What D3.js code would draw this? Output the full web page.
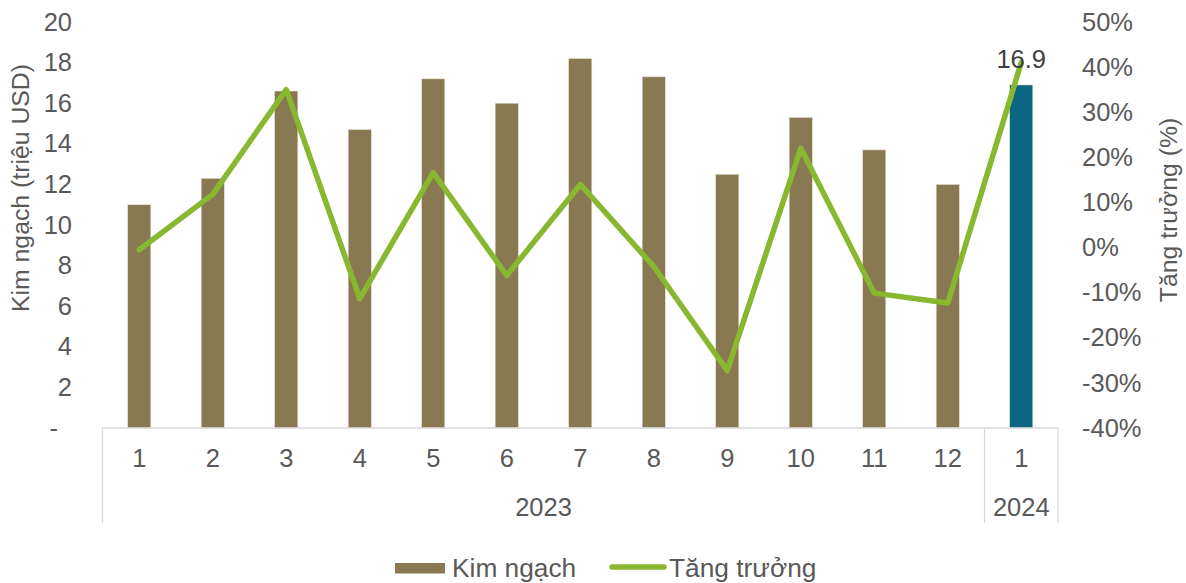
<!DOCTYPE html>
<html>
<head>
<meta charset="utf-8">
<script src="https://cdn.jsdelivr.net/npm/d3@7"></script>
<style>
  html, body { margin: 0; padding: 0; background: #fff; }
  svg { display: block; font-family: "Liberation Sans", Arial, sans-serif; }
</style>
</head>
<body>
<svg id="chart" width="1186" height="583"></svg>
<script>
// Monthly export value (million USD) and year-on-year growth (%)
const months = ["1", "2", "3", "4", "5", "6", "7", "8", "9", "10", "11", "12", "1"];
const years = ["2023", "2023", "2023", "2023", "2023", "2023", "2023", "2023", "2023", "2023", "2023", "2023", "2024"];
const yearGroups = [
  { label: "2023", from: 0, to: 11 },
  { label: "2024", from: 12, to: 12 }
];
const kimNgach = [11.0, 12.3, 16.6, 14.7, 17.2, 16.0, 18.2, 17.3, 12.5, 15.3, 13.7, 12.0, 16.9];
const tangTruong = [-0.5, 11.8, 35.0, -11.3, 16.6, -6.2, 14.0, -4.2, -27.3, 22.0, -10.1, -12.3, 41.0];
const leftTicks = [0, 2, 4, 6, 8, 10, 12, 14, 16, 18, 20];
const rightTicks = [-40, -30, -20, -10, 0, 10, 20, 30, 40, 50];

const textColor = "#595959";
const gridColor = "#d9d9d9";
const barColor = "#897952";
const barHighlight = "#0c6583";
const lineColor = "#87b830";
const fontSize = 25.5;
const titleSize = 24.8;
const legendSize = 26.3;

const svg = d3.select("#chart");
const plot = { left: 102.5, right: 1058, top: 22, bottom: 428 };

const idx = d3.range(months.length);
const x = d3.scaleBand().domain(idx).range([plot.left, plot.right]).padding(0);
const yL = d3.scaleLinear().domain([0, 20]).range([plot.bottom, plot.top]);
const yR = d3.scaleLinear().domain([-40, 50]).range([plot.bottom, plot.top]);
const barW = x.bandwidth() * 0.315;
const cx = i => x(i) + x.bandwidth() / 2;

// Bars
svg.append("g").selectAll("rect")
  .data(kimNgach)
  .join("rect")
  .attr("x", (d, i) => cx(i) - barW / 2)
  .attr("y", d => yL(d))
  .attr("width", barW)
  .attr("height", d => yL(0) - yL(d))
  .attr("fill", (d, i) => years[i] === "2024" ? barHighlight : barColor)
  .attr("stroke", "#e6e0d2")
  .attr("stroke-width", 0.6);

// Category axis: baseline and group separators
const axisG = svg.append("g");
axisG.append("line")
  .attr("x1", plot.left).attr("x2", plot.right)
  .attr("y1", plot.bottom).attr("y2", plot.bottom)
  .attr("stroke", gridColor).attr("stroke-width", 1.3);
const sepX = [plot.left, x(12), plot.right];
axisG.selectAll("line.sep")
  .data(sepX)
  .join("line")
  .attr("class", "sep")
  .attr("x1", d => d).attr("x2", d => d)
  .attr("y1", plot.bottom).attr("y2", 523)
  .attr("stroke", gridColor).attr("stroke-width", 1.3);

// Month labels
axisG.selectAll("text.month")
  .data(months)
  .join("text")
  .attr("class", "month")
  .attr("x", (d, i) => cx(i))
  .attr("y", 458)
  .attr("dy", "0.35em")
  .attr("text-anchor", "middle")
  .attr("font-size", fontSize)
  .attr("fill", textColor)
  .text(d => d);

// Year labels
axisG.selectAll("text.year")
  .data(yearGroups)
  .join("text")
  .attr("class", "year")
  .attr("x", d => (x(d.from) + x(d.to) + x.bandwidth()) / 2)
  .attr("y", 507)
  .attr("dy", "0.35em")
  .attr("text-anchor", "middle")
  .attr("font-size", fontSize)
  .attr("fill", textColor)
  .text(d => d.label);

// Left value axis
const leftAxis = svg.append("g")
  .attr("transform", `translate(${72},0)`)
  .call(d3.axisLeft(yL).tickValues(leftTicks).tickSize(0).tickPadding(0)
    .tickFormat(d => d === 0 ? "-" : d3.format("d")(d)));
leftAxis.select(".domain").remove();
leftAxis.selectAll("text")
  .attr("font-size", fontSize)
  .attr("fill", textColor)
  .attr("font-family", "Liberation Sans, Arial, sans-serif")
  .attr("dx", d => d === 0 ? -14 : 0);

// Right value axis
const rightAxis = svg.append("g")
  .attr("transform", `translate(${1082},0)`)
  .call(d3.axisRight(yR).tickValues(rightTicks).tickSize(0).tickPadding(0)
    .tickFormat(d => d + "%"));
rightAxis.select(".domain").remove();
rightAxis.selectAll("text")
  .attr("font-size", fontSize)
  .attr("fill", textColor)
  .attr("font-family", "Liberation Sans, Arial, sans-serif");

// Axis titles
svg.append("text")
  .attr("transform", `translate(${29},${188}) rotate(-90)`)
  .attr("text-anchor", "middle")
  .attr("font-size", titleSize)
  .attr("fill", textColor)
  .text("Kim ngạch (triệu USD)");
svg.append("text")
  .attr("transform", `translate(${1177},${210}) rotate(-90)`)
  .attr("text-anchor", "middle")
  .attr("font-size", titleSize)
  .attr("fill", textColor)
  .text("Tăng trưởng (%)");

// Growth line
const line = d3.line()
  .x((d, i) => cx(i))
  .y(d => yR(d));
svg.append("path")
  .datum(tangTruong)
  .attr("d", line)
  .attr("fill", "none")
  .attr("stroke", lineColor)
  .attr("stroke-width", 5.5)
  .attr("stroke-linejoin", "round")
  .attr("stroke-linecap", "round");

// Value label on the latest bar
const last = kimNgach.length - 1;
svg.append("text")
  .attr("x", cx(last))
  .attr("y", 59)
  .attr("dy", "0.35em")
  .attr("text-anchor", "middle")
  .attr("font-size", fontSize)
  .attr("fill", "#404040")
  .text(d3.format(".1f")(kimNgach[last]));

// Legend
const legend = svg.append("g");
legend.append("rect")
  .attr("x", 395).attr("y", 563).attr("width", 50).attr("height", 10.5)
  .attr("fill", barColor);
legend.append("text")
  .attr("x", 452).attr("y", 568).attr("dy", "0.35em")
  .attr("font-size", legendSize).attr("fill", textColor)
  .text("Kim ngạch");
legend.append("line")
  .attr("x1", 612).attr("x2", 664).attr("y1", 567).attr("y2", 567)
  .attr("stroke", lineColor).attr("stroke-width", 5.5)
  .attr("stroke-linecap", "round");
legend.append("text")
  .attr("x", 669).attr("y", 568).attr("dy", "0.35em")
  .attr("font-size", legendSize).attr("fill", textColor)
  .text("Tăng trưởng");
</script>
</body>
</html>
